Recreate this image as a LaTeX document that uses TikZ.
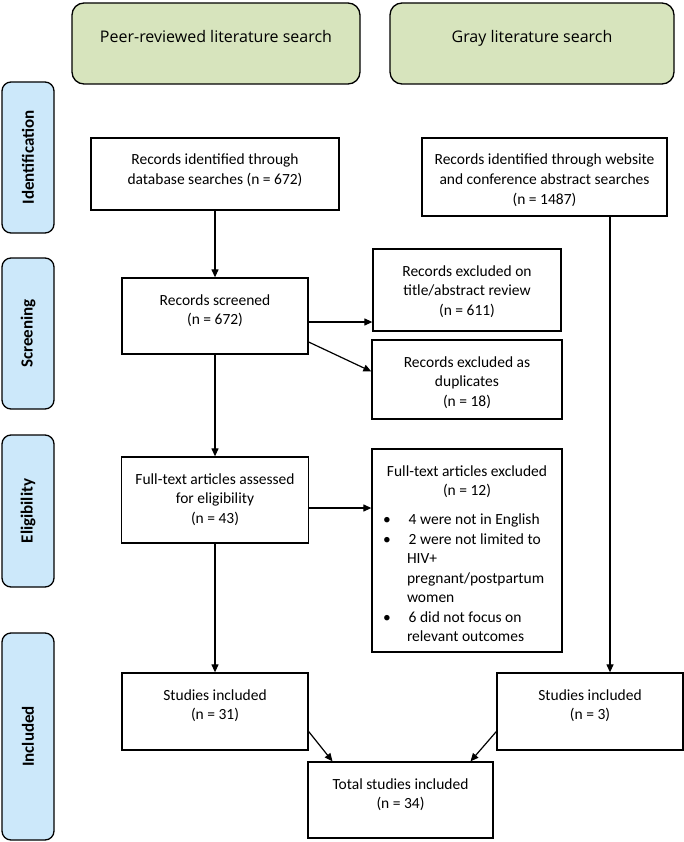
\documentclass[tikz,border=0pt]{standalone}
\usepackage{fontspec}
\setmainfont{Carlito}
\newfontfamily\headfont{Open Sans}
\usepackage{tikz}
\usetikzlibrary{arrows.meta,positioning}

\definecolor{headgreen}{RGB}{215,228,189}
\definecolor{stageblue}{RGB}{204,232,250}

\newcommand{\boxfont}{\fontsize{15.5pt}{19.5pt}\selectfont}
\newcommand{\boxtext}[4][27pt]{\parbox[c][#3][t]{#2}{\centering\rule{0pt}{#1}#4}}

\begin{document}
\begin{tikzpicture}[x=1pt,y=-1pt,
  box/.style={draw,line width=1.3pt,inner sep=0pt,font=\boxfont},
  head/.style={draw,line width=1.3pt,fill=headgreen,rounded corners=12pt,inner sep=0pt,
    font=\headfont\fontsize{16pt}{19pt}\selectfont},
  stage/.style={draw,line width=1.3pt,fill=stageblue,rounded corners=9pt,rotate=90,
    minimum height=52pt,font=\bfseries\fontsize{17pt}{20pt}\selectfont},
  arr/.style={line width=1.2pt,-{Triangle[length=8pt,width=7pt]}}]
  \useasboundingbox (0,0) rectangle (684,842);

  % stages
  \node[stage,minimum width=151pt] (ident) at (28,157.5) {Identification};
  \node[stage,minimum width=151pt] (screen) at (28,333.5) {Screening};
  \node[stage,minimum width=152pt] (elig) at (28,511) {Eligibility};
  \node[stage,minimum width=207pt] (incl) at (28,736.5) {Included};

  % sources
  \node[head] (peer) at (216,43.5) {\boxtext[39.5pt]{288pt}{81pt}{Peer-reviewed literature search}};
  \node[head] (gray) at (532,43.5) {\boxtext[39.5pt]{284pt}{81pt}{Gray literature search}};

  % left column
  \node[box] (recdb) at (215,174) {\boxtext{248pt}{72pt}{Records identified through\\database searches (n = 672)}};
  \node[box] (screened) at (215,316) {\boxtext{186pt}{76pt}{Records screened\\(n = 672)}};
  \node[box] (fulltext) at (215,500) {\boxtext{187pt}{86pt}{Full-text articles assessed\\for eligibility\\(n = 43)}};
  \node[box] (inclpeer) at (215,711.5) {\boxtext{186pt}{77pt}{Studies included\\(n = 31)}};

  % exclusions
  \node[box] (extitle) at (467,290) {\boxtext{188pt}{82pt}{Records excluded on\\title/abstract review\\(n = 611)}};
  \node[box] (exdup) at (467,379.5) {\boxtext{190pt}{79pt}{Records excluded as\\duplicates\\(n = 18)}};
  \node[box] (exfull) at (467,550.5) {\parbox[c][203pt][t]{190pt}{\centering\rule{0pt}{27pt}Full-text articles excluded\\(n = 12)\par
    \vspace{9.5pt}\raggedright
    \begin{list}{\textbullet}{\setlength{\leftmargin}{35pt}\setlength{\labelwidth}{6pt}%
      \setlength{\labelsep}{18pt}\setlength{\topsep}{0pt}\setlength{\partopsep}{0pt}%
      \setlength{\itemsep}{0pt}\setlength{\parsep}{0pt}}
    \item 4 were not in English
    \item 2 were not limited to\newline HIV+\newline pregnant/postpartum\newline women
    \item 6 did not focus on\newline relevant outcomes
    \end{list}}};

  % right column
  \node[box] (recweb) at (544.5,177) {\boxtext{245pt}{78pt}{Records identified through website\\and conference abstract searches\\(n = 1487)}};
  \node[box] (inclgray) at (590,711.5) {\boxtext{186pt}{77pt}{Studies included\\(n = 3)}};
  \node[box] (total) at (400.5,800) {\boxtext{185pt}{76pt}{Total studies included\\(n = 34)}};

  \coordinate (grayin) at ([xshift=20pt]inclgray.north);

  \draw[arr] (recdb.south -| screened.north) -- (screened.north);
  \draw[arr] ([yshift=-6pt]screened.east) -- ([yshift=-6pt]screened.east -| extitle.west);
  \draw[arr] ([yshift=-26pt]screened.east) -- ([yshift=8pt]exdup.west);
  \draw[arr] (screened.south) -- (fulltext.north -| screened.south);
  \draw[arr] ([yshift=-8pt]fulltext.east) -- ([yshift=-8pt]fulltext.east -| exfull.west);
  \draw[arr] (fulltext.south -| inclpeer.north) -- (inclpeer.north);
  \draw[arr] (grayin |- recweb.south) -- (grayin);
  \draw[arr] ([yshift=-20pt]inclpeer.east) -- ([xshift=-68pt]total.north);
  \draw[arr] ([yshift=-20pt]inclgray.west) -- ([xshift=70pt]total.north);
\end{tikzpicture}
\end{document}
